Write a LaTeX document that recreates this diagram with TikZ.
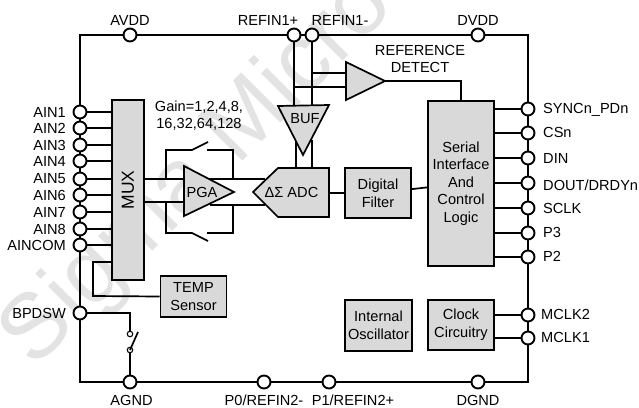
\documentclass[tikz,border=0pt]{standalone}
\usepackage{fontspec}
\setmainfont{Liberation Sans}
\usepackage{xcolor}
\usetikzlibrary{calc}
\definecolor{blockgray}{gray}{0.85}
\definecolor{markgray}{gray}{0.89}
\tikzset{
	wire/.style={line width=1.7pt},
	blockbox/.style={draw,line width=1.9pt,fill=blockgray,align=center,inner sep=0pt},
	amp/.style={draw,line width=1.7pt,fill=blockgray,line join=miter},
	pin/.style={circle,draw,line width=1.9pt,fill=white,minimum size=13pt,inner sep=0pt},
	lbl/.style={inner sep=0pt},
	swpin/.style={circle,draw,line width=1.1pt,fill=white,minimum size=5.5pt,inner sep=0pt},
}

\begin{document}
\begin{tikzpicture}[x=1pt,y=-1pt,font=\fontsize{14.6}{17.6}\selectfont]
	\useasboundingbox (0,0) rectangle (639,407);
	
	\node[lbl,text=markgray,rotate=45,font=\fontsize{92}{92}\selectfont,anchor=base west] (mark) at (34.5,369.5) {Sigma Micro};
	
	\coordinate (tl) at (80,35);
	\coordinate (tr) at (528,35);
	\coordinate (br) at (528,382);
	\coordinate (bl) at (80,382);
	\draw[wire] (tl)--(tr)--(br)--(bl)--cycle;
	
	% blocks
	\node[blockbox,minimum width=32pt,minimum height=180pt] (mux) at (128,190) {};
	\node[lbl,rotate=90,font=\fontsize{17.5}{20}\selectfont] (muxtext) at (mux) {MUX};
	\node[blockbox,minimum width=66pt,minimum height=41pt] (temp) at (193.5,296.5) {TEMP\\Sensor};
	\node[blockbox,minimum width=66pt,minimum height=165pt] (serial) at (461,183.5) {Serial\\Interface\\And\\Control\\Logic};
	\node[blockbox,minimum width=66pt,minimum height=50pt] (filter) at (378,193) {Digital\\Filter};
	\node[blockbox,minimum width=67pt,minimum height=51pt] (osc) at (378.5,325.5) {Internal\\Oscillator};
	\node[blockbox,minimum width=66pt,minimum height=50pt] (clock) at (461,325) {Clock\\Circuitry};
	
	% pins
	\foreach \y/\i/\t in {112/1/AIN1,128/2/AIN2,145/3/AIN3,161/4/AIN4,179/5/AIN5,195/6/AIN6,212/7/AIN7,229/8/AIN8,245/9/AINCOM}{
		\node[pin] (in\i) at (80,\y) {};
		\draw[wire] (in\i)--(in\i -| mux.west);
		\node[lbl,anchor=east] (inlbl\i) at (66,\y) {\t};
	}
	\foreach \y/\i in {109/1,133/2,158/3,183/4,208/5,233/6,257/7}{
		\node[pin] (out\i) at (528,\y) {};
		\draw[wire] (out\i)--(out\i -| serial.east);
	}
	\node[lbl,anchor=west] (outlbl1) at (543,110) {SYNCn\_PDn};
	\node[lbl,anchor=west] (outlbl2) at (543,132) {CSn};
	\node[lbl,anchor=west] (outlbl3) at (543,158) {DIN};
	\node[lbl,anchor=west] (outlbl4) at (543,185) {DOUT/DRDYn};
	\node[lbl,anchor=west] (outlbl5) at (543,208) {SCLK};
	\node[lbl,anchor=west] (outlbl6) at (543,232) {P3};
	\node[lbl,anchor=west] (outlbl7) at (543,256) {P2};
	\foreach \y/\t in {315/MCLK2,338/MCLK1}{
		\node[pin] (\t) at (528,\y) {};
		\draw[wire] (\t)--(\t -| clock.east);
		\node[lbl,anchor=west] (lbl\t) at (541,\y-1) {\t};
	}
	\node[pin] (avdd) at (130,35) {};
	\node[pin] (refp) at (294,35) {};
	\node[pin] (refn) at (312,35) {};
	\node[pin] (dvdd) at (478,35) {};
	\node[pin] (agnd) at (130,382) {};
	\node[pin] (pzero) at (264,382) {};
	\node[pin] (pone) at (329,382) {};
	\node[pin] (dgnd) at (478,382) {};
	\node[pin] (bpdsw) at (80,313) {};
	
	\node[lbl] (avddlbl) at (130,20.5) {AVDD};
	\node[lbl] (refplbl) at (268,20.5) {REFIN1+};
	\node[lbl] (refnlbl) at (340,20.5) {REFIN1-};
	\node[lbl] (dvddlbl) at (478,20.5) {DVDD};
	\node[lbl] (agndlbl) at (131.5,400) {AGND};
	\node[lbl] (pzerolbl) at (264,400) {P0/REFIN2-};
	\node[lbl] (ponelbl) at (353,400) {P1/REFIN2+};
	\node[lbl] (dgndlbl) at (478,400) {DGND};
	\node[lbl,anchor=east] (bpdswlbl) at (66,313) {BPDSW};
	\node[lbl,align=center] (detectlbl) at (420,59) {REFERENCE\\DETECT};
	\node[lbl,align=center] (gainlbl) at (199,115.5) {Gain=1,2,4,8,\\16,32,64,128};
	
	% analog path
	\coordinate (pgatop) at (184,166);
	\coordinate (pgabot) at (184,216);
	\coordinate (pgatip) at (234,192);
	\coordinate (adctip) at (253,192);
	\coordinate (adctl) at (278,168);
	\coordinate (adctr) at (329,168);
	\coordinate (adcbr) at (329,217);
	\coordinate (adcbl) at (278,217);
	\coordinate (swa) at (166,179);
	\coordinate (swb) at (233,179);
	\coordinate (swc) at (166,202);
	\coordinate (swd) at (233,205);
	\draw[wire] (mux.east |- swa)--(265,179);
	\draw[wire] (mux.east |- swc)--(pgabot |- swc);
	\draw[wire] (210,205)--(265,205);
	
	\draw[wire] (swa)--(166,150)--(192,150)--(208,142);
	\draw[wire] (207,150)--(233,150)--(swb);
	\draw[wire] (swc)--(166,233)--(192,233)--(208,241);
	\draw[wire] (207,233)--(233,233)--(swd);
	
	\draw[amp] (pgatop)--(pgatip)--(pgabot)--cycle;
	\draw[amp] (adctip)--(adctl)--(adctr)--(adcbr)--(adcbl)--cycle;
	\node[lbl] (pgalbl) at (202,192) {PGA};
	\node[lbl] (adclbl) at (291.5,192) {ΔΣ ADC};
	
	% reference path
	\coordinate (buftl) at (278,106);
	\coordinate (buftr) at (329,105);
	\coordinate (buftip) at (303,155);
	\coordinate (dettop) at (346,62);
	\coordinate (detbot) at (346,100);
	\coordinate (dettip) at (385,81);
	\draw[wire] (refp)--(294,106);
	\draw[wire] (refn)--(312,106);
	\draw[wire] (296,140)--(296,168);
	\draw[wire] (312,140)--(312,168);
	\draw[wire] (312,73)--(346,73);
	\draw[wire] (294,87)--(346,87);
	\draw[amp] (buftl)--(buftr)--(buftip)--cycle;
	\draw[amp] (dettop)--(dettip)--(detbot)--cycle;
	\node[lbl] (buflbl) at (305,119) {BUF};
	\draw[wire] (dettip)-|(serial.north);
	
	\draw[wire] (adctr |- filter)--(filter);
	\draw[wire] (filter)--(serial);
	\draw[wire] (mux.west |- 0,262)--(93,262)--(93,296)--(temp.west);
	
	% power down switch
	\node[swpin] (swtop) at (130,334) {};
	\node[swpin] (swbot) at (130,350) {};
	\draw[wire] (bpdsw)-|(swtop);
	\draw[wire] (swbot)--(agnd);
	\draw[wire] (130,350)--(138,332);
\end{tikzpicture}
\end{document}
